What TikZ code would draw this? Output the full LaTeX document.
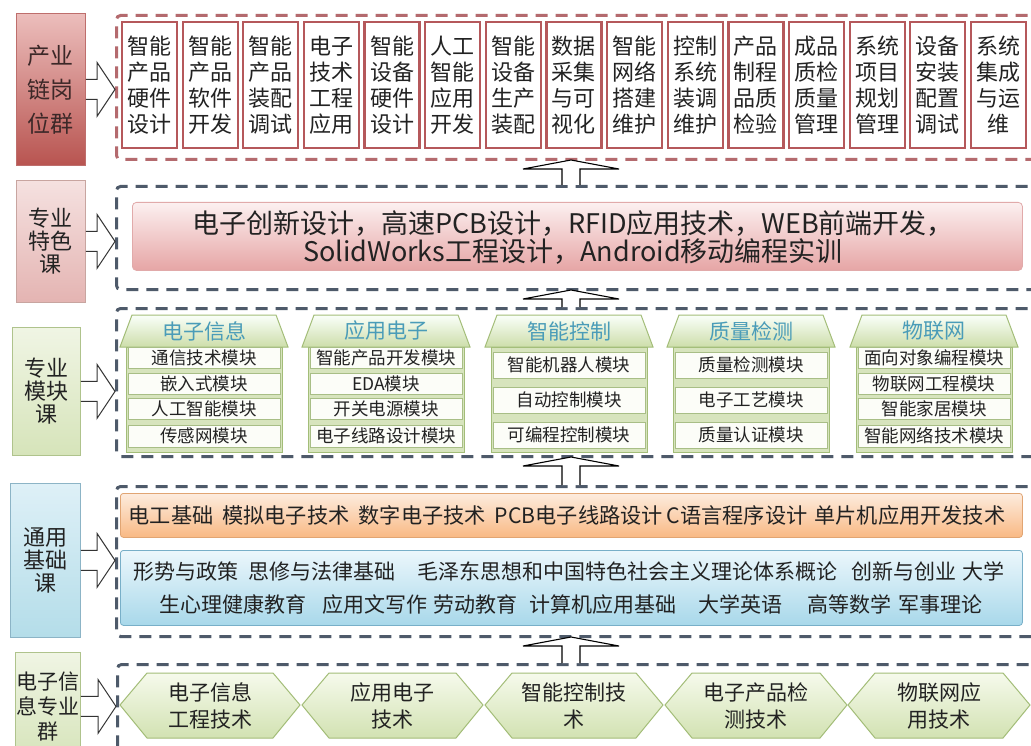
\documentclass[tikz,border=0pt]{standalone}
\usepackage{fontspec}
\setmainfont{Noto Sans CJK SC}
\usetikzlibrary{calc}
\definecolor{boxred}{HTML}{B5585B}
\definecolor{redframe}{HTML}{B46A6E}
\definecolor{darkframe}{HTML}{4E5A6A}
\definecolor{titleteal}{HTML}{4A9CB8}
\definecolor{greenborder}{HTML}{A3BD78}
\definecolor{rowborder}{HTML}{A8BE86}
\definecolor{txt}{HTML}{222222}
\begin{document}
\begin{tikzpicture}[x=1pt,y=-1pt,
  lab/.style={rectangle, anchor=north west, inner sep=0pt, align=center, text=txt, line width=0.8pt},
  frameR/.style={rectangle, anchor=north west, inner sep=0pt, draw=redframe, line width=3pt, dash pattern=on 12pt off 8pt, rounded corners=4pt},
  frameB/.style={rectangle, anchor=north west, inner sep=0pt, draw=darkframe, line width=3pt, dash pattern=on 12pt off 8pt, rounded corners=4pt},
  topbox/.style={rectangle, draw=boxred, line width=2.2pt, fill=white, minimum width=55pt, minimum height=126pt, inner sep=0pt, align=center, text=txt, font=\fontsize{22pt}{26pt}\selectfont},
  barrow/.style={draw=black!80, line width=1pt},
  uparrow/.style={draw=black, line width=1.1pt, fill=white},
  roof/.style={draw=greenborder, line width=1pt, top color=white!80!green!10, bottom color={rgb,255:red,205;green,222;blue,170}},
  body/.style={draw=greenborder, line width=1pt, fill={rgb,255:red,215;green,228;blue,189}},
  rowbox/.style={rectangle, draw=rowborder, line width=1pt, fill={rgb,255:red,252;green,253;blue,248}, minimum width=152pt, inner sep=0pt, text=txt, font=\fontsize{17.5pt}{18pt}\selectfont},
  grouptitle/.style={text=titleteal, font=\fontsize{21pt}{22pt}\selectfont, inner sep=0pt},
  hexshape/.style={draw=greenborder, line width=1pt, top color={rgb,255:red,246;green,250;blue,236}, bottom color={rgb,255:red,210;green,226;blue,178}},
  hextext/.style={align=center, text=txt, inner sep=0pt, font=\fontsize{21pt}{27pt}\selectfont}
]
\useasboundingbox (0,0) rectangle (1031,746);
\clip (0,0) rectangle (1031,746);
\fill[white] (0,0) rectangle (1031,746);

% ---------- left labels ----------
\node[lab, draw={rgb,255:red,190;green,110;blue,108}, top color={rgb,255:red,236;green,190;blue,188}, middle color={rgb,255:red,218;green,150;blue,148}, bottom color={rgb,255:red,184;green,84;blue,80}, minimum width=69pt, minimum height=152pt, font=\fontsize{23pt}{34pt}\selectfont, text={rgb,255:red,60;green,40;blue,40}] (l1) at (16,13) {产业\\链岗\\位群};
\node[lab, draw={rgb,255:red,200;green,165;blue,160}, top color={rgb,255:red,245;green,225;blue,224}, bottom color={rgb,255:red,228;green,180;blue,178}, minimum width=69pt, minimum height=122pt, font=\fontsize{22pt}{23pt}\selectfont] (l2) at (16,180) {专业\\特色\\课};
\node[lab, draw={rgb,255:red,175;green,195;blue,140}, top color={rgb,255:red,240;green,245;blue,228}, bottom color={rgb,255:red,214;green,228;blue,186}, minimum width=68pt, minimum height=128pt, font=\fontsize{22pt}{23pt}\selectfont] (l3) at (12,327) {专业\\模块\\课};
\node[lab, draw={rgb,255:red,140;green,180;blue,198}, top color={rgb,255:red,222;green,240;blue,247}, bottom color={rgb,255:red,180;green,221;blue,233}, minimum width=70pt, minimum height=154pt, font=\fontsize{22pt}{23pt}\selectfont] (l4) at (10,483) {通用\\基础\\课};
\node[lab, draw={rgb,255:red,175;green,195;blue,140}, top color={rgb,255:red,240;green,245;blue,228}, bottom color={rgb,255:red,214;green,228;blue,186}, minimum width=65pt, minimum height=108pt, font=\fontsize{21pt}{25pt}\selectfont] (l5) at (15,652) {电子信\\息专业\\群};

% ---------- frames ----------
\node[frameR, minimum width=935pt, minimum height=144pt] (f1) at (115,14) {};
\node[frameB, minimum width=935pt, minimum height=103pt] (f2) at (115,185) {};
\node[frameB, minimum width=935pt, minimum height=148pt] (f3) at (115,307) {};
\node[frameB, minimum width=935pt, minimum height=150pt] (f4) at (115,485) {};
\node[frameB, minimum width=935pt, minimum height=120pt] (f5) at (116,663) {};

% ---------- left block arrows ----------
\foreach \l/\f in {l1/f1,l2/f2,l3/f3,l4/f4,l5/f5}{
  \draw[barrow] let \p1=(\l.east), \p2=(\f.west) in
    (\x1,\y1+10pt) -- (\x2-18pt,\y1+10pt) -- (\x2-18pt,\y1+27pt) -- (\x2,\y1)
    -- (\x2-18pt,\y1-27pt) -- (\x2-18pt,\y1-10pt) -- (\x1,\y1-10pt);
}

% ---------- up arrows ----------
\foreach \lo/\up in {f2/f1,f3/f2,f4/f3,f5/f4}{
  \draw[uparrow] let \p1=(\lo.north), \p2=(\up.south) in
    (562pt,\y1) -- (562pt,\y2-8pt) -- (523pt,\y2-8pt) -- (571pt,\y2+1pt)
    -- (619pt,\y2-8pt) -- (580pt,\y2-8pt) -- (580pt,\y1);
}

% ---------- top row of job boxes ----------
\foreach \t [count=\i from 0] in {智能\\产品\\硬件\\设计, 智能\\产品\\软件\\开发, 智能\\产品\\装配\\调试, 电子\\技术\\工程\\应用, 智能\\设备\\硬件\\设计, 人工\\智能\\应用\\开发, 智能\\设备\\生产\\装配, 数据\\采集\\与可\\视化, 智能\\网络\\搭建\\维护, 控制\\系统\\装调\\维护, 产品\\制程\\品质\\检验, 成品\\质检\\质量\\管理, 系统\\项目\\规划\\管理, 设备\\安装\\配置\\调试, 系统\\集成\\与运\\维}{
  \node[topbox] (t\i) at ({149.5+60.64*\i},85) {\t};
}

% ---------- special courses ----------
\node[rectangle, rounded corners=4pt, draw={rgb,255:red,225;green,170;blue,170}, line width=0.8pt, top color={rgb,255:red,252;green,240;blue,240}, bottom color={rgb,255:red,230;green,165;blue,165}, minimum width=890pt, minimum height=68pt, anchor=north west, inner sep=0pt] (sp) at (132,202) {};
\node[align=center, text=txt, inner sep=0pt, font=\fontsize{27pt}{28pt}\selectfont] (sptxt) at (573,237) {电子创新设计，高速PCB设计，RFID应用技术，WEB前端开发，\\SolidWorks工程设计，Android移动编程实训};

% ---------- module groups ----------
\newcommand\roofbody[3]{% cx, title, bottom
  \draw[body] (#1-78,347) rectangle (#1+78,#3);
  \draw[roof] (#1-84,347) -- (#1-72,315) -- (#1+72,315) -- (#1+84,347) -- cycle;
  \node[grouptitle] at (#1,331) {#2};
}
\newcommand\fourrows[6]{% name, cx, r1..r4
  \node[rowbox, minimum height=21pt] (#1a) at (#2,358) {#3};
  \node[rowbox, minimum height=21pt] (#1b) at (#2,383.5) {#4};
  \node[rowbox, minimum height=21pt] (#1c) at (#2,409) {#5};
  \node[rowbox, minimum height=22pt] (#1d) at (#2,436) {#6};
}
\newcommand\threerows[5]{% name, cx, r1..r3
  \node[rowbox, minimum height=26pt] (#1a) at (#2,365) {#3};
  \node[rowbox, minimum height=26pt] (#1b) at (#2,400) {#4};
  \node[rowbox, minimum height=26pt] (#1c) at (#2,435) {#5};
}
\roofbody{204}{电子信息}{452}
\fourrows{ga}{204}{通信技术模块}{嵌入式模块}{人工智能模块}{传感网模块}
\roofbody{386}{应用电子}{452}
\fourrows{gb}{386}{智能产品开发模块}{EDA模块}{开关电源模块}{电子线路设计模块}
\roofbody{569}{智能控制}{452}
\threerows{gc}{569}{智能机器人模块}{自动控制模块}{可编程控制模块}
\roofbody{751}{质量检测}{452}
\threerows{gd}{751}{质量检测模块}{电子工艺模块}{质量认证模块}
\roofbody{934}{物联网}{452}
\fourrows{ge}{934}{面向对象编程模块}{物联网工程模块}{智能家居模块}{智能网络技术模块}

% ---------- general basic courses ----------
\node[rectangle, rounded corners=3pt, draw={rgb,255:red,225;green,165;blue,115}, line width=0.8pt, top color={rgb,255:red,253;green,236;blue,222}, bottom color={rgb,255:red,249;green,185;blue,132}, minimum width=902pt, minimum height=44pt, anchor=north west, inner sep=0pt] (ob) at (120,493) {};
\node[text=txt, inner sep=0pt, font=\fontsize{21.2pt}{22pt}\selectfont] (obt) at (567,515) {电工基础\hspace{9pt}模拟电子技术\hspace{9pt}数字电子技术\hspace{9pt}PCB电子线路设计\hspace{4pt}C语言程序设计\hspace{7pt}单片机应用开发技术};
\node[rectangle, rounded corners=3pt, draw={rgb,255:red,120;green,175;blue,200}, line width=0.8pt, top color={rgb,255:red,236;green,247;blue,252}, bottom color={rgb,255:red,168;green,216;blue,234}, minimum width=902pt, minimum height=75pt, anchor=north west, inner sep=0pt] (bb) at (120,550) {};
\node[text=txt, inner sep=0pt, font=\fontsize{21pt}{22pt}\selectfont] (bbt1) at (569,571) {形势与政策\hspace{10pt}思修与法律基础\hspace{22pt}毛泽东思想和中国特色社会主义理论体系概论\hspace{14pt}创新与创业\hspace{6pt}大学};
\node[text=txt, inner sep=0pt, font=\fontsize{21pt}{22pt}\selectfont] (bbt2) at (571,604) {生心理健康教育\hspace{16pt}应用文写作\hspace{6pt}劳动教育\hspace{12pt}计算机应用基础\hspace{22pt}大学英语\hspace{25pt}高等数学\hspace{7pt}军事理论};

% ---------- majors (hexagons) ----------
\foreach \xl/\xr/\t [count=\i] in {120/300/电子信息\\工程技术, 302/483/应用电子\\技术, 485/663/智能控制技\\术, 665/847/电子产品检\\测技术, 848/1030/物联网应\\用技术}{
  \draw[hexshape] (\xl,705) -- (\xl+27,673) -- (\xr-27,673) -- (\xr,705) -- (\xr-27,738) -- (\xl+27,738) -- cycle;
  \node[hextext] (h\i) at ({(\xl+\xr)/2},706) {\t};
}
\end{tikzpicture}
\end{document}
